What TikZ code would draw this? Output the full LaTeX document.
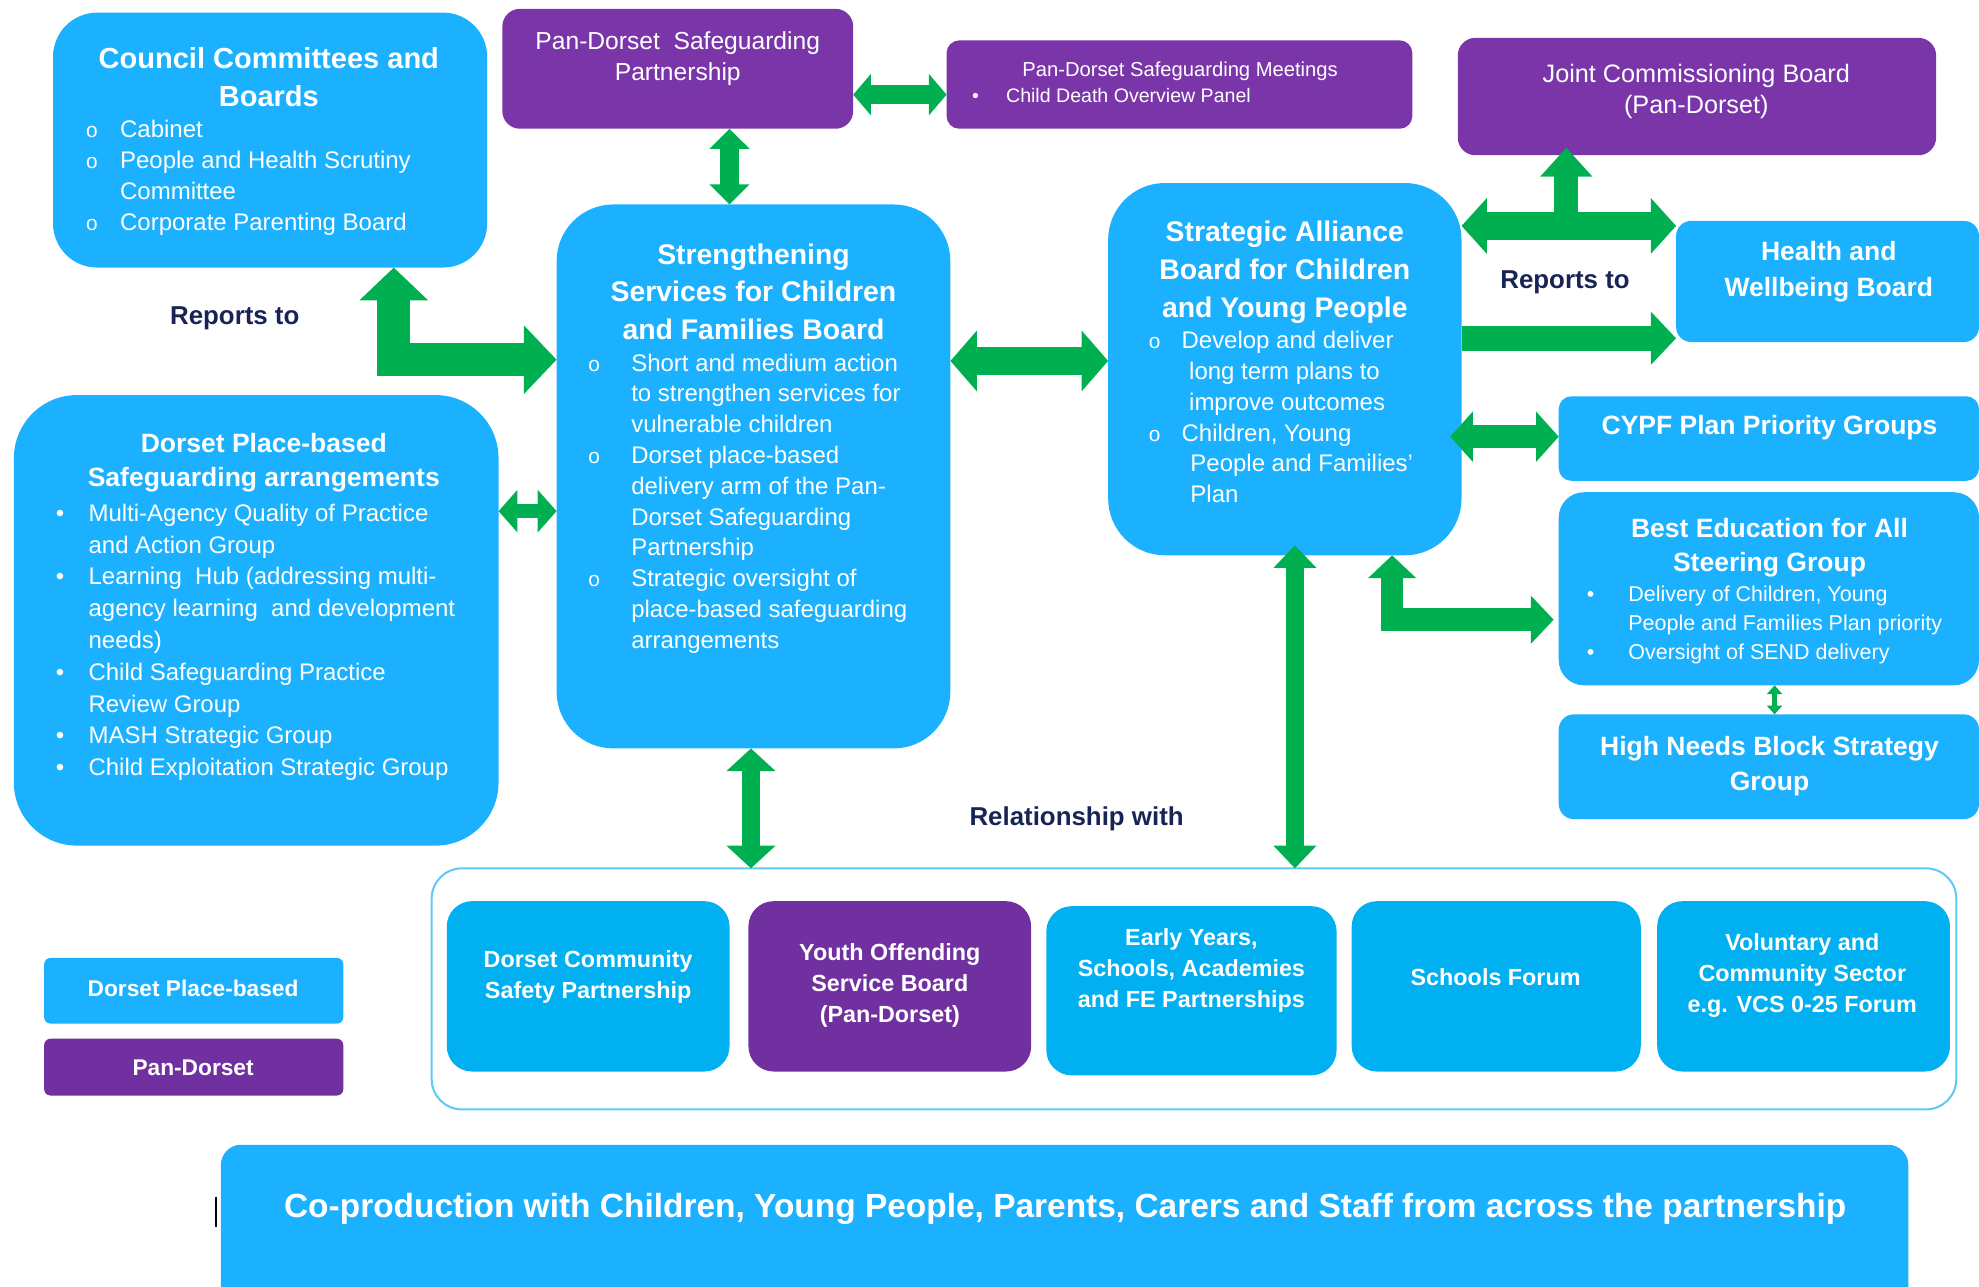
\documentclass[tikz,border=0pt]{standalone}
\usepackage{fontspec}
\setmainfont{Liberation Sans}
\usetikzlibrary{arrows.meta, calc}
\definecolor{boxblue}{RGB}{27,177,255}
\definecolor{relblue}{RGB}{0,176,240}
\definecolor{boxpurple}{RGB}{122,54,168}
\definecolor{relpurple}{RGB}{112,48,160}
\definecolor{arrowgreen}{RGB}{0,176,80}
\definecolor{navy}{RGB}{24,36,86}
\definecolor{relline}{RGB}{96,200,245}
\newcommand{\ringbul}[1]{\makebox[#1][l]{\fontsize{16.5}{16.5}\selectfont o}}
\newcommand{\dotbul}[1]{\makebox[#1][l]{\textbullet}}
\tikzset{
  panel/.style = {anchor=north west, inner sep=0pt, outer sep=0pt},
  bluepanel/.style = {panel, fill=boxblue},
  purplepanel/.style = {panel, fill=boxpurple},
  relbluepanel/.style = {panel, fill=relblue, rounded corners=20pt, minimum height=135pt},
  heading/.style = {white, align=center, anchor=north, inner sep=0pt, font=\bfseries\fontsize{22.5}{30}\selectfont},
  plaintext/.style = {white, align=center, anchor=north, inner sep=0pt, font=\fontsize{19.5}{25}\selectfont},
  itemlist/.style = {white, align=left, anchor=north west, inner sep=0pt, font=\fontsize{19}{24.5}\selectfont},
  reltext/.style = {white, align=center, inner sep=0pt, font=\bfseries\fontsize{18.5}{24.5}\selectfont},
  linktext/.style = {navy, inner sep=0pt, font=\bfseries\fontsize{20.5}{25}\selectfont},
  twoway/.style n args = {3}{draw=arrowgreen, line width=#1, {Triangle[width=#2, length=#3]}-{Triangle[width=#2, length=#3]}},
  oneway/.style n args = {3}{draw=arrowgreen, line width=#1, -{Triangle[width=#2, length=#3]}}
}

\begin{document}
\begin{tikzpicture}[x=1pt, y=-1pt]
    \useasboundingbox (0,0) rectangle (1568,1019);

    \node[bluepanel, rounded corners=35pt, minimum width=344pt, minimum height=202pt] (council) at (42,10) {};
    \node[purplepanel, rounded corners=14pt, minimum width=278pt, minimum height=95pt] (safeguarding) at (398,7) {};
    \node[purplepanel, rounded corners=10pt, minimum width=369pt, minimum height=70pt] (meetings) at (750,32) {};
    \node[purplepanel, rounded corners=14pt, minimum width=379pt, minimum height=93pt] (joint) at (1155,30) {};
    \node[bluepanel, rounded corners=45pt, minimum width=312pt, minimum height=431pt] (strength) at (441,162) {};
    \node[bluepanel, rounded corners=45pt, minimum width=280pt, minimum height=295pt] (alliance) at (878,145) {};
    \node[bluepanel, rounded corners=12pt, minimum width=240pt, minimum height=96pt] (health) at (1328,175) {};
    \node[bluepanel, rounded corners=10pt, minimum width=333pt, minimum height=67pt] (cypf) at (1235,314) {};
    \node[bluepanel, rounded corners=20pt, minimum width=333pt, minimum height=153pt] (education) at (1235,390) {};
    \node[bluepanel, rounded corners=12pt, minimum width=333pt, minimum height=83pt] (highneeds) at (1235,566) {};
    \node[bluepanel, rounded corners=50pt, minimum width=384pt, minimum height=357pt] (dorset) at (11,313) {};
    \node[panel, draw=relline, line width=1.6pt, rounded corners=24pt, minimum width=1208pt, minimum height=191pt] (relation) at (342,688) {};
    \node[relbluepanel, minimum width=224pt] (community) at (354,714) {};
    \node[relbluepanel, fill=relpurple, minimum width=224pt] (youth) at (593,714) {};
    \node[relbluepanel, minimum width=230pt, minimum height=134pt] (early) at (829,718) {};
    \node[relbluepanel, minimum width=229pt] (forum) at (1071,714) {};
    \node[relbluepanel, minimum width=232pt] (voluntary) at (1313,714) {};
    \node[bluepanel, rounded corners=5pt, minimum width=237pt, minimum height=52pt] (keyplace) at (35,759) {};
    \node[purplepanel, fill=relpurple, rounded corners=5pt, minimum width=237pt, minimum height=45pt] (keypan) at (35,823) {};
    \node[bluepanel, rounded corners=16pt, minimum width=1337pt, minimum height=130pt] (coproduction) at (175,907) {};

    \node[heading, font=\bfseries\fontsize{23}{30}\selectfont] (council-title) at (213,37.5) {Council Committees and\\Boards};
    \node[itemlist] (council-items) at (68,95) {\ringbul{27pt}Cabinet\\
        \ringbul{27pt}People and Health Scrutiny\\
        \hspace*{27pt}Committee\\
        \ringbul{27pt}Corporate Parenting Board};
    \node[plaintext] (safeguarding-text) at (537,24.8) {Pan-Dorset\ \ Safeguarding\\Partnership};
    \node[plaintext, font=\fontsize{16}{21}\selectfont] (meetings-title) at (935,48.5) {Pan-Dorset Safeguarding Meetings};
    \node[itemlist, font=\fontsize{15.5}{21}\selectfont] (meetings-items) at (770,69.5) {\dotbul{27pt}Child Death Overview Panel};
    \node[plaintext, font=\fontsize{20}{25}\selectfont] (joint-text) at (1344,50.5) {Joint Commissioning Board\\(Pan-Dorset)};
    \node[heading] (strength-title) at (597,192.7) {Strengthening\\Services for Children\\and Families Board};
    \node[itemlist, font=\fontsize{19}{24.4}\selectfont] (strength-items) at (466,280) {\ringbul{34pt}Short and medium action\\
        \hspace*{34pt}to strengthen services for\\
        \hspace*{34pt}vulnerable children\\
        \ringbul{34pt}Dorset place-based\\
        \hspace*{34pt}delivery arm of the Pan-\\
        \hspace*{34pt}Dorset Safeguarding\\
        \hspace*{34pt}Partnership\\
        \ringbul{34pt}Strategic oversight of\\
        \hspace*{34pt}place-based safeguarding\\
        \hspace*{34pt}arrangements};
    \node[heading] (alliance-title) at (1018,174.7) {Strategic Alliance\\Board for Children\\and Young People};
    \node[itemlist] (alliance-items) at (910,262) {\ringbul{26pt}Develop and deliver\\
        \hspace*{32pt}long term plans to\\
        \hspace*{32pt}improve outcomes\\
        \ringbul{26pt}Children, Young\\
        \hspace*{33pt}People and Families’\\
        \hspace*{33pt}Plan};
    \node[heading, font=\bfseries\fontsize{21}{28}\selectfont] (health-text) at (1449,191.2) {Health and\\Wellbeing Board};
    \node[heading, font=\bfseries\fontsize{21}{28}\selectfont] (cypf-text) at (1402,329.2) {CYPF Plan Priority Groups};
    \node[heading, font=\bfseries\fontsize{21}{27}\selectfont] (education-title) at (1402,410.2) {Best Education for All\\Steering Group};
    \node[itemlist, font=\fontsize{17}{23}\selectfont] (education-items) at (1257,463.7) {\dotbul{33pt}Delivery of Children, Young\\
        \hspace*{33pt}People and Families Plan priority\\
        \dotbul{33pt}Oversight of SEND delivery};
    \node[heading, font=\bfseries\fontsize{21}{28}\selectfont] (highneeds-text) at (1402,583.2) {High Needs Block Strategy\\Group};
    \node[heading, font=\bfseries\fontsize{21}{27}\selectfont] (dorset-title) at (209,343.2) {Dorset Place-based\\Safeguarding arrangements};
    \node[itemlist, font=\fontsize{19}{25.2}\selectfont] (dorset-items) at (44,399) {\dotbul{26pt}Multi-Agency Quality of Practice\\
        \hspace*{26pt}and Action Group\\
        \dotbul{26pt}Learning\ \ Hub (addressing multi-\\
        \hspace*{26pt}agency learning\ \ and development\\
        \hspace*{26pt}needs)\\
        \dotbul{26pt}Child Safeguarding Practice\\
        \hspace*{26pt}Review Group\\
        \dotbul{26pt}MASH Strategic Group\\
        \dotbul{26pt}Child Exploitation Strategic Group};

    \node[linktext] (reports-left) at (186,252) {Reports to};
    \node[linktext] (reports-right) at (1240,224) {Reports to};
    \node[linktext] (relationship) at (853,649) {Relationship with};

    \node[reltext] (community-text) at (466,774) {Dorset Community\\Safety Partnership};
    \node[reltext] (youth-text) at (705,781) {Youth Offending\\Service Board\\(Pan-Dorset)};
    \node[reltext] (early-text) at (944,769) {Early Years,\\Schools, Academies\\and FE Partnerships};
    \node[reltext] (forum-text) at (1185,774) {Schools Forum};
    \node[reltext] (voluntary-text) at (1428,773) {Voluntary and\\Community Sector\\e.g. VCS 0-25 Forum};
    \node[reltext, font=\bfseries\fontsize{18}{22}\selectfont] (keyplace-text) at (153,783) {Dorset Place-based};
    \node[reltext, font=\bfseries\fontsize{18}{22}\selectfont] (keypan-text) at (153,846) {Pan-Dorset};
    \node[reltext, font=\bfseries\fontsize{26.5}{30}\selectfont] (coproduction-text) at (844,958) {Co-production with Children, Young People, Parents, Carers and Staff from across the partnership};
    \draw[line width=1.3pt] (171,948) -- (171,972);

    \coordinate (tee) at ($(alliance.north east)+(83,34)$);
    \draw[twoway={15pt}{32pt}{14pt}] ($(safeguarding.north east)+(0,68)$) -- ($(meetings.north west)+(0,43)$);
    \draw[twoway={15pt}{31pt}{16pt}] ($(safeguarding.south west)+(180,0)$) -- ($(strength.north west)+(137,0)$);
    \draw[twoway={26pt}{53pt}{26pt}] ($(council.south west)+(270,0)$) |- ($(strength.north west)+(0,123)$);
    \draw[twoway={11pt}{33pt}{15pt}] ($(dorset.north east)+(0,92)$) -- ($(strength.north west)+(0,243)$);
    \draw[twoway={22pt}{47pt}{21pt}] ($(strength.north east)+(0,124)$) -- ($(alliance.north west)+(0,141)$);
    \draw[twoway={22pt}{43pt}{20pt}] ($(alliance.north east)+(0,34)$) -- ($(health.north west)+(0,4)$);
    \draw[oneway={19pt}{40pt}{23pt}] (tee) -- ($(joint.south west)+(86,-6)$);
    \draw[oneway={20pt}{41pt}{20pt}] ($(alliance.north east)+(0,123)$) -- ($(health.south west)+(0,-3)$);
    \draw[twoway={18pt}{39pt}{18pt}] ($(alliance.north east)+(-9,201)$) -- ($(cypf.north west)+(0,32)$);
    \draw[twoway={18pt}{37pt}{18pt}] ($(alliance.south west)+(225,0)$) |- ($(education.north west)+(-4,101)$);
    \draw[twoway={4pt}{12pt}{7pt}] ($(education.south west)+(171,0)$) -- ($(highneeds.north west)+(171,0)$);
    \draw[twoway={15pt}{38pt}{18pt}] ($(strength.south west)+(154,0)$) -- ($(relation.north west)+(253,0)$);
    \draw[twoway={14pt}{33pt}{18pt}] ($(alliance.south west)+(148,-8)$) -- ($(relation.north west)+(684,0)$);
\end{tikzpicture}
\end{document}
